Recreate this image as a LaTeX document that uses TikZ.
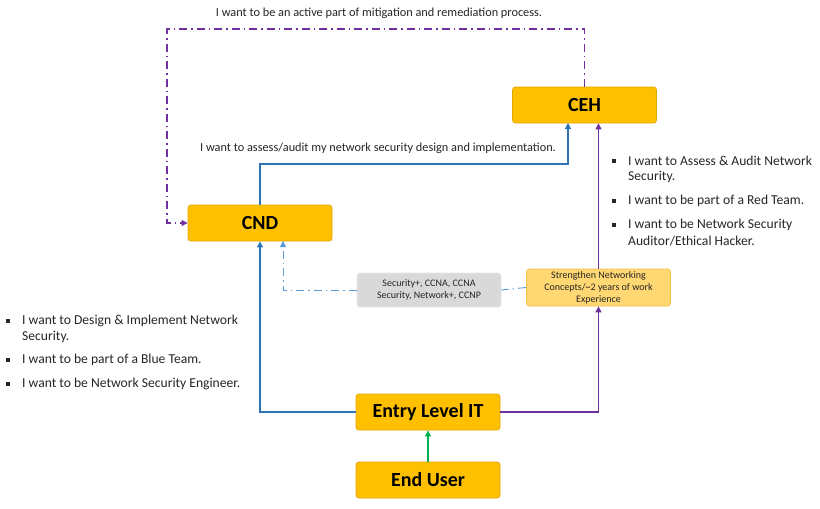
\documentclass[tikz,border=0pt]{standalone}
\usepackage{fontspec}
\setmainfont{Carlito}
\usetikzlibrary{arrows.meta}
\definecolor{boxor}{HTML}{FFC000}
\definecolor{boxbd}{HTML}{E0A800}
\definecolor{lightor}{HTML}{FFD773}
\definecolor{lightbd}{HTML}{F5C04A}
\definecolor{greyf}{HTML}{D9D9D9}
\definecolor{greybd}{HTML}{E8E8E8}
\definecolor{blueln}{HTML}{2E75B6}
\definecolor{ltblue}{HTML}{5B9BD5}
\definecolor{purp}{HTML}{7030A0}
\definecolor{grn}{HTML}{00B050}
\definecolor{txt}{HTML}{262626}
\tikzset{
  mainbox/.style={draw=boxbd, fill=boxor, rounded corners=3pt, minimum width=144pt, minimum height=36pt, font=\fontsize{20}{22}\selectfont\bfseries, text=black, inner sep=0pt, line width=0.8pt},
  smallbox/.style={rounded corners=3pt, minimum width=144pt, align=center, font=\fontsize{10}{12}\selectfont, text=txt, inner sep=0pt, line width=0.8pt},
  conn/.style={line width=1.1pt, -{Triangle[length=6pt,width=6pt]}},
  dashdot/.style={dash pattern=on 8pt off 4pt on 1.5pt off 4pt},
  note/.style={font=\fontsize{12.3}{14}\selectfont, text=txt, inner sep=0pt},
  bnote/.style={font=\fontsize{13.6}{15}\selectfont, text=txt, inner sep=0pt, anchor=west},
  bul/.style={fill=txt, minimum size=4pt, inner sep=0pt},
}
\begin{document}
\begin{tikzpicture}[x=1pt,y=-1pt]
\fill[white] (0,0) rectangle (820,509);
\useasboundingbox (0,0) rectangle (820,509);

\node[mainbox] (ceh) at (584.5,105) {CEH};
\node[mainbox] (cnd) at (260,223) {CND};
\node[mainbox] (entry) at (428,412) {Entry Level IT};
\node[mainbox] (user) at (428,480) {End User};
\node[smallbox, draw=greybd, fill=greyf, minimum height=34pt] (cert) at (429,290) {Security+, CCNA, CCNA\\Security, Network+, CCNP};
\node[smallbox, draw=lightbd, fill=lightor, minimum height=37pt] (str) at (598.5,287.5) {Strengthen Networking\\Concepts/\textasciitilde2 years of work\\Experience};

\coordinate (topL) at (167,29);
\coordinate (topR) at (584.5,29);

% connectors
\draw[conn, grn] (user) -- (entry);
\draw[conn, blueln] (entry.west) -| (cnd.south);
\draw[conn, purp] (entry.east) -| (str.south);
\draw[conn, purp] (str.north) -- (str.north |- ceh.south);
\draw[conn, blueln] (cnd.north) |- (568,164) -- (568,123);
\draw[conn, purp, dashdot] (ceh.north) -- (topR) -- (topL) |- (cnd.west);
\draw[ltblue, line width=0.9pt, dashdot] (str.west) -- (cert.east);
\draw[conn, ltblue, line width=0.9pt, dashdot] (cert.west) -| (283,241);

% labels
\node[note] (lbl1) at (379,13) {I want to be an active part of mitigation and remediation process.};
\node[note] (lbl2) at (378,148) {I want to assess/audit my network security design and implementation.};

% right bullets
\node[bul] (rb1) at (614,161) {};
\node[bnote] (rt1) at (628,161) {I want to Assess \& Audit Network};
\node[bnote] (rt1b) at (628,177) {Security.};
\node[bul] (rb2) at (614,201) {};
\node[bnote] (rt2) at (628,201) {I want to be part of a Red Team.};
\node[bul] (rb3) at (614,225) {};
\node[bnote] (rt3) at (628,225) {I want to be Network Security};
\node[bnote] (rt3b) at (628,241) {Auditor/Ethical Hacker.};

% left bullets
\node[bul] (lb1) at (8,321) {};
\node[bnote] (lt1) at (22,321) {I want to Design \& Implement Network};
\node[bnote] (lt1b) at (22,337) {Security.};
\node[bul] (lb2) at (8,360) {};
\node[bnote] (lt2) at (22,360) {I want to be part of a Blue Team.};
\node[bul] (lb3) at (8,384) {};
\node[bnote] (lt3) at (22,384) {I want to be Network Security Engineer.};
\end{tikzpicture}
\end{document}
